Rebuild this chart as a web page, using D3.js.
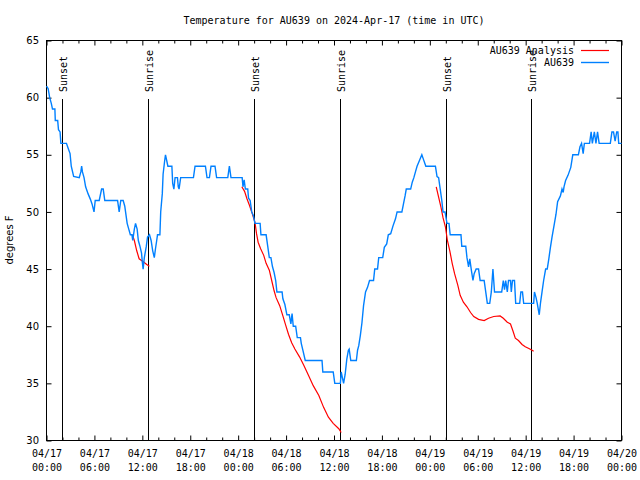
<!DOCTYPE html>
<html><head><meta charset="utf-8">
<script src="https://cdn.jsdelivr.net/npm/d3@7"></script>
<style>body{margin:0;background:#fff}svg{display:block}</style>
</head><body>
<svg id="chart" width="640" height="480"></svg>
<script>
// ---------------- data ----------------
const chartTitle = "Temperature for AU639 on 2024-Apr-17 (time in UTC)";
const yAxisLabel = "degrees F";
const startTime = "2024-04-17T00:00:00Z";
const spanHours = 72;
const xMajorTickHours = [0, 6, 12, 18, 24, 30, 36, 42, 48, 54, 60, 66, 72];
const xMinorTickHours = [2, 4, 8, 10, 14, 16, 20, 22, 26, 28, 32, 34, 38, 40, 44, 46, 50, 52, 56, 58, 62, 64, 68, 70];
const yTicks = [30, 35, 40, 45, 50, 55, 60, 65];
const seriesNames = ["AU639 Analysis", "AU639"];
const sunsetHours = [1.98, 26.03, 50.07];
const sunriseHours = [12.76, 36.8, 60.78];

// observations: [hours since start, temperature F]
const observed = [
[0,61],[0.2,60.8],[0.4,60],[0.6,59.5],[0.75,59],[1.05,59],[1.1,58],[1.4,58],[1.5,57.2],[1.7,57],[1.8,56],[2.5,56],
[2.7,55.6],[2.95,55.1],[3.1,54],[3.4,53.1],[4.1,53],[4.3,53.5],[4.4,54],[4.5,53.5],[4.7,53],[4.9,52.2],[5.2,51.6],
[5.5,51.1],[5.7,50.7],[5.95,50],[6.1,51],[6.6,51],[6.9,52],[7.1,52],[7.3,51],[8.9,51],[9.1,50],[9.3,51],[9.6,51],
[9.8,50.5],[9.9,50],[10.1,49],[10.3,48.5],[10.5,48],[10.7,48],[10.8,47.5],[11.0,48.5],[11.15,49],[11.35,48.5],
[11.5,47.5],[11.7,47],[11.9,46.4],[12.0,45.6],[12.1,45],[12.25,46],[12.5,47],[12.65,47.8],[12.9,48],[13.1,47.5],
[13.3,46.6],[13.5,46],[13.65,46.8],[13.8,47.5],[13.9,48],[14.2,48],[14.3,50],[14.5,51.6],[14.6,53.3],[14.8,54.5],
[14.9,55],[15.05,54.5],[15.2,54],[15.7,54],[15.8,52.5],[15.95,52],[16.1,53],[16.4,53],[16.5,52.2],[16.6,52],
[16.8,53],[18.4,53],[18.6,54],[19.9,54],[20.1,53],[20.4,53],[20.6,54],[21.1,54],[21.3,53],[22.7,53],[22.9,54],
[23.1,53],[24.5,53],[24.6,52.2],[24.75,52.8],[24.9,52],[25.2,52],[25.3,51.2],[25.5,51],[25.7,50],[25.9,49.7],
[26.1,49],[26.75,49],[26.85,48],[27.5,48],[27.7,47],[27.9,46],[28.1,46],[28.3,45.2],[28.5,44.7],[28.7,44],
[28.85,43],[29.5,43],[29.6,42.4],[29.85,41.9],[30.1,41],[30.4,41],[30.6,40.2],[30.75,41.1],[30.9,40],[31.2,40],
[31.4,39],[31.8,39],[31.9,38.5],[32.1,37.9],[32.4,37],[34.5,37],[34.6,36],[35.9,36],[36.1,35],[36.8,35],[36.9,36],
[37.05,35.5],[37.2,35],[37.4,35.8],[37.6,37.1],[37.8,37.9],[37.9,38],[38.1,37],[38.8,37],[38.95,37.9],[39.1,38.3],
[39.3,39.2],[39.5,40.3],[39.7,41.8],[39.95,43],[40.2,43.4],[40.45,44],[40.95,44],[41.1,45],[41.45,45],[41.6,46],
[42.1,46],[42.3,46.9],[42.6,47.2],[42.8,48],[43.1,48.1],[43.4,48.8],[43.7,49.4],[43.9,50],[44.5,50],[44.7,50.7],
[44.9,51.4],[45.05,52],[45.6,52],[45.8,52.6],[46.0,53],[46.2,53.5],[46.4,54],[46.7,54.5],[47.0,55],[47.2,54.6],
[47.5,54],[48.7,54],[48.9,53.1],[49.1,53],[49.3,52],[49.5,51],[49.65,50],[49.9,50],[50.15,49],[50.4,49],[50.55,48],
[51.9,48],[52.0,47],[52.5,47],[52.65,46],[52.85,45.2],[53.0,45.9],[53.2,44.9],[53.4,44],[53.55,44.6],[53.8,45],
[54.1,45],[54.3,44],[54.8,44],[55.0,43],[55.2,42],[55.5,42],[55.7,43],[55.8,44],[55.9,45],[56.1,43],[57.0,43],
[57.2,44],[57.35,43.2],[57.5,44],[57.7,43],[57.85,44],[58.1,44],[58.2,43],[58.35,44],[58.6,44],[58.75,42],
[59.25,42],[59.4,43],[59.6,43],[59.75,42],[61.0,42],[61.1,43],[61.3,42.5],[61.45,42],[61.7,41],[61.85,42],
[62.05,43],[62.25,44],[62.5,45],[62.7,45],[62.9,45.9],[63.1,46.9],[63.3,47.8],[63.6,49],[63.8,49.8],[64.0,50.9],
[64.35,51.4],[64.55,52],[64.7,51.7],[64.8,52.2],[65.0,52.75],[65.3,53.2],[65.65,53.9],[65.9,55],[66.6,55],
[66.8,55.7],[67.0,56],[67.2,55.1],[67.35,56],[68.0,56],[68.2,57],[68.35,56],[68.6,57],[68.8,56],[69.0,57],
[69.2,56],[70.6,56],[70.8,57],[71.0,57],[71.2,56.2],[71.4,57],[71.55,57],[71.65,56],[72,56]
];

// analysis night segments: [hours since start, temperature F]
const analysisNight1 = [
[10.75,48],[11.0,47.5],[11.3,46.6],[11.6,45.9],[11.9,45.75],[12.2,45.6],[12.55,45.4],[12.88,45.25]
];
const analysisNight2 = [
[24.46,52.2],[24.8,51.8],[25.1,51.15],[25.4,50.6],[25.7,50],[26.1,49.1],[26.3,48.1],[26.5,47.35],[26.8,46.8],
[27.2,46.2],[27.5,45.5],[27.9,44.9],[28.2,44],[28.5,43.1],[28.75,42.5],[29.2,41.8],[29.6,40.9],[29.9,40.2],
[30.3,39.3],[30.7,38.55],[31.1,38],[31.7,37.3],[32.2,36.6],[32.8,35.7],[33.4,34.8],[34.1,33.94],[34.7,32.9],
[35.3,32.04],[35.9,31.5],[36.6,31.03],[36.9,30.7]
];
const analysisNight3 = [
[48.8,52.2],[49.1,51.3],[49.4,50.4],[49.65,49.5],[49.95,48.7],[50.2,47.5],[50.5,46.6],[50.8,45.5],[51.1,44.6],
[51.5,43.6],[51.8,42.7],[52.2,42.1],[52.65,41.7],[53.1,41.2],[53.5,40.85],[54.1,40.6],[54.8,40.5],[55.35,40.7],
[56.0,40.85],[56.8,40.9],[57.2,40.7],[57.7,40.35],[58.1,40.2],[58.4,39.6],[58.7,38.95],[59.1,38.75],[59.55,38.4],
[59.95,38.2],[60.4,38.05],[60.8,37.9],[61.0,37.8]
];

// ---------------- drawing ----------------
const MONO = "'DejaVu Sans Mono', monospace";
const SANS = "'DejaVu Sans', sans-serif";
const t0 = new Date(startTime);
const toDate = h => new Date(t0.getTime() + h * 3600e3);

const svg = d3.select("#chart");
const x = d3.scaleUtc().domain([t0, toDate(spanHours)]).range([46.5, 621.5]);
const y = d3.scaleLinear().domain([30, 65]).range([440.5, 40.5]);
const crisp = v => Math.floor(v) + 0.5;

// title
svg.append("text").attr("x", 334).attr("y", 24).attr("text-anchor", "middle")
  .style("font-family", MONO).style("font-size", "10px").text(chartTitle);

// y label
svg.append("text").attr("transform", "translate(13,240) rotate(-90)").attr("text-anchor", "middle")
  .style("font-family", SANS).style("font-size", "10px").text(yAxisLabel);

// axes
const fmtDate = d3.utcFormat("%m/%d"), fmtTime = d3.utcFormat("%H:%M");
const gxb = svg.append("g").attr("transform", "translate(0,440.5)")
  .call(d3.axisBottom(x).tickValues(xMajorTickHours.map(toDate)).tickSize(-5).tickSizeOuter(0));
gxb.select(".domain").remove();
gxb.selectAll(".tick text").each(function(d) {
  const t = d3.select(this).attr("y", 0).attr("dy", null).text(null)
    .style("font-family", MONO).style("font-size", "10px");
  t.append("tspan").attr("x", 0).attr("y", 16.5).text(fmtDate(d));
  t.append("tspan").attr("x", 0).attr("y", 30.5).text(fmtTime(d));
});
const gxbm = svg.append("g").attr("transform", "translate(0,440.5)")
  .call(d3.axisBottom(x).tickValues(xMinorTickHours.map(toDate)).tickSize(-3).tickSizeOuter(0).tickFormat(""));
gxbm.select(".domain").remove();
const gxt = svg.append("g").attr("transform", "translate(0,40.5)")
  .call(d3.axisTop(x).tickValues(xMajorTickHours.map(toDate)).tickSize(-5).tickSizeOuter(0).tickFormat(""));
gxt.select(".domain").remove();
const gxtm = svg.append("g").attr("transform", "translate(0,40.5)")
  .call(d3.axisTop(x).tickValues(xMinorTickHours.map(toDate)).tickSize(-3).tickSizeOuter(0).tickFormat(""));
gxtm.select(".domain").remove();

const gyl = svg.append("g").attr("transform", "translate(46.5,0)")
  .call(d3.axisLeft(y).tickValues(yTicks).tickSize(-5).tickSizeOuter(0).tickPadding(7.5).tickFormat(d3.format("d")));
gyl.select(".domain").remove();
gyl.selectAll(".tick text").style("font-family", SANS).style("font-size", "10px");
const gyr = svg.append("g").attr("transform", "translate(621.5,0)")
  .call(d3.axisRight(y).tickValues(yTicks).tickSize(-5).tickSizeOuter(0).tickFormat(""));
gyr.select(".domain").remove();
svg.selectAll(".tick line").attr("stroke", "#000");

// frame
svg.append("rect").attr("x", 46.5).attr("y", 40.5).attr("width", 575).attr("height", 400)
  .attr("fill", "none").attr("stroke", "#000");

// sunset / sunrise markers
const markers = sunsetHours.map(h => ({h, label: "Sunset"}))
  .concat(sunriseHours.map(h => ({h, label: "Sunrise"})));
markers.forEach(m => {
  const px = crisp(x(toDate(m.h)));
  svg.append("line").attr("x1", px).attr("x2", px).attr("y1", 99).attr("y2", 440)
    .attr("stroke", "#000").attr("stroke-width", 1);
  svg.append("text").attr("transform", `translate(${px + 4.5},92) rotate(-90)`)
    .attr("text-anchor", "start")
    .style("font-family", MONO).style("font-size", "10px").text(m.label);
});

// lines
const line = d3.line().x(d => x(toDate(d[0]))).y(d => y(d[1]));
[analysisNight1, analysisNight2, analysisNight3].forEach(seg => {
  svg.append("path").datum(seg).attr("d", line).attr("fill", "none")
    .attr("stroke", "#ff0000").attr("stroke-width", 1.2);
});
svg.append("path").datum(observed).attr("d", line).attr("fill", "none")
  .attr("stroke", "#0080ff").attr("stroke-width", 1.4);

// legend
const legendColors = ["#ff0000", "#0080ff"];
seriesNames.forEach((name, i) => {
  const cy = 50.5 + i * 12;
  svg.append("text").attr("x", 574).attr("y", cy + 3.5).attr("text-anchor", "end")
    .style("font-family", MONO).style("font-size", "10px").text(name);
  svg.append("line").attr("x1", 581).attr("x2", 609).attr("y1", cy).attr("y2", cy)
    .attr("stroke", legendColors[i]).attr("stroke-width", i ? 1.4 : 1.2);
});
</script>
</body></html>
